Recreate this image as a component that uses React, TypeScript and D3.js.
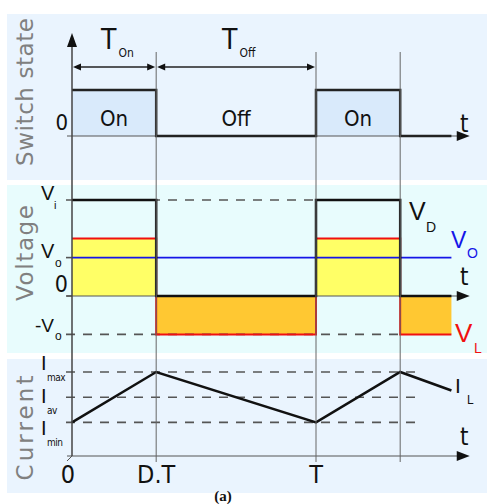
import * as d3 from "d3";

// one switching period = 1, time axis continues a bit past the second pulse
const times = [0, 0.345, 1, 1.345, 1.555];
const switchState = [1, 0, 1, 0, 0];
const switchLabels = ["On", "Off", "On", ""];

// voltages in units of Vi
const vDiode = [1, 0, 1, 0, 0];
const vInductor = [0.6, -0.4, 0.6, -0.4, -0.4];
const vOut = 0.4;

// inductor current
const iInductor = [0.4, 1.0, 0.4, 1.0, 0.78];
const currentLevels = [1.0, 0.7, 0.4];
const currentNames = ["max", "av", "min"];

const timeTicks = [0, 0.345, 1];
const timeLabels = ["0", "D.T", "T"];
const gridTimes = [0.345, 1, 1.345];

const width = 488;
const height = 504;

const NARROW = "'Liberation Sans Narrow', 'DejaVu Sans Condensed', 'Arial Narrow', sans-serif";
const SANS = "'Liberation Sans', Arial, sans-serif";
const TITLE = "'DejaVu Sans', Verdana, sans-serif";
const GREY = "#555";

export default function App() {
  const x = d3.scaleLinear().domain([0, 1]).range([72, 316]);
  const ySw = d3.scaleLinear().domain([0, 1]).range([136, 90]);
  const yV = d3.scaleLinear().domain([0, 1]).range([296, 200]);
  const yI = d3.scaleLinear().domain([0, 1]).range([456, 372]);

  const xAxis = x(0);
  const xEnd = x(1.63);
  const tLast = times[times.length - 1];

  const step = (ys: d3.ScaleLinear<number, number>, vals: number[]) =>
    d3
      .line<number>()
      .x((_, i) => x(times[i]))
      .y((d) => ys(d))
      .curve(d3.curveStepAfter)(vals) || "";

  const swPath = step(ySw, switchState);
  const vdPath = step(yV, vDiode);
  const vlPath = step(yV, vInductor);
  const iPath =
    d3
      .line<number>()
      .x((_, i) => x(times[i]))
      .y((d) => yI(d))(iInductor) || "";

  const segs = d3.range(times.length - 1);

  // t axis with arrow
  const tAxis = (y: number) => (
    <g>
      <line x1={67} x2={xEnd - 8} y1={y} y2={y} stroke={GREY} strokeWidth={1} />
      <polygon points={`${xEnd},${y} ${xEnd - 13},${y - 5} ${xEnd - 13},${y + 5}`} fill="#111" />
    </g>
  );

  const dimArrow = (x1: number, x2: number, y: number) => (
    <g>
      <line x1={x1 + 4} x2={x2 - 4} y1={y} y2={y} stroke="#222" strokeWidth={1.3} />
      <polygon points={`${x1 + 1},${y} ${x1 + 9},${y - 3.5} ${x1 + 9},${y + 3.5}`} fill="#111" />
      <polygon points={`${x2 - 1},${y} ${x2 - 9},${y - 3.5} ${x2 - 9},${y + 3.5}`} fill="#111" />
    </g>
  );

  return (
    <div style={{ position: "absolute", left: 0, top: 0 }}>
      <svg width={width} height={height} style={{ display: "block" }}>
        <rect width={width} height={height} fill="#fff" />
        {/* panel backgrounds */}
        <rect x={7} y={14} width={480} height={166} fill="#EAF4FE" />
        <rect x={7} y={185} width={480} height={168} fill="#E8FCFD" />
        <rect x={7} y={359} width={480} height={134} fill="#EAF4FE" />

        {/* panel titles */}
        {[
          { t: "Switch state", c: 92, len: 148 },
          { t: "Voltage", c: 253, len: 96 },
          { t: "Current", c: 428, len: 105 },
        ].map((d) => (
          <text
            key={d.t}
            transform={`translate(33,${d.c}) rotate(-90)`}
            textAnchor="middle"
            fontFamily={TITLE}
            fontSize={23}
            fill="#808080"
            textLength={d.len}
            lengthAdjust="spacing"
          >
            {d.t}
          </text>
        ))}

        {/* ---------- switch state ---------- */}
        {segs
          .filter((i) => switchState[i] === 1)
          .map((i) => (
            <rect
              key={i}
              x={x(times[i])}
              y={ySw(1)}
              width={x(times[i + 1]) - x(times[i])}
              height={ySw(0) - ySw(1)}
              fill="#D9EAFB"
            />
          ))}
        {tAxis(ySw(0))}
        <path d={swPath} fill="none" stroke="#222" strokeWidth={2.5} />
        {segs.map((i) =>
          switchLabels[i] ? (
            <text
              key={i}
              x={(x(times[i]) + x(times[i + 1])) / 2}
              y={126}
              textAnchor="middle"
              fontFamily={NARROW}
              fontSize={22}
              fill="#111"
            >
              {switchLabels[i]}
            </text>
          ) : null
        )}
        <text x={68} y={130} textAnchor="end" fontFamily={NARROW} fontSize={22} fill="#111">
          0
        </text>
        <text x={460} y={132} fontFamily={NARROW} fontSize={24} fill="#111">
          t
        </text>
        {dimArrow(x(0), x(times[1]), 67)}
        {dimArrow(x(times[1]), x(1), 67)}
        <text x={101} y={49} fontFamily={NARROW} fontSize={28} fill="#111">
          T
          <tspan dx={2} dy={8} fontSize={12}>
            On
          </tspan>
        </text>
        <text x={222} y={49} fontFamily={NARROW} fontSize={28} fill="#111">
          T
          <tspan dx={2} dy={8} fontSize={12}>
            Off
          </tspan>
        </text>

        {/* ---------- voltage ---------- */}
        {segs.map((i) => (
          <rect
            key={i}
            x={x(times[i])}
            y={Math.min(yV(0), yV(vInductor[i]))}
            width={x(times[i + 1]) - x(times[i])}
            height={Math.abs(yV(vInductor[i]) - yV(0))}
            fill={vInductor[i] > 0 ? "#FFFF66" : "#FFC832"}
          />
        ))}
        {/* reference levels */}
        <line x1={66} x2={x(1)} y1={yV(1)} y2={yV(1)} stroke={GREY} strokeWidth={1.6} strokeDasharray="9 8" />
        <line x1={66} x2={x(1 + times[1])} y1={yV(-vOut)} y2={yV(-vOut)} stroke={GREY} strokeWidth={1.6} strokeDasharray="9 8" />
        {[vOut, 0].map((v) => (
          <line key={v} x1={66} x2={xAxis} y1={yV(v)} y2={yV(v)} stroke={GREY} strokeWidth={1.6} />
        ))}
        {tAxis(yV(0))}
        <line x1={xAxis} x2={x(tLast)} y1={yV(vOut)} y2={yV(vOut)} stroke="#1515E8" strokeWidth={1.6} />
        <path d={vlPath} fill="none" stroke="#F01010" strokeWidth={2} />
        <path d={vdPath} fill="none" stroke="#111" strokeWidth={2.5} />

        {/* left labels */}
        <text x={41} y={200} fontFamily={SANS} fontSize={20} fill="#111">
          V<tspan x={54} y={209} fontSize={11}>i</tspan>
        </text>
        <text x={41} y={258} fontFamily={SANS} fontSize={20} fill="#111">
          V<tspan x={55} y={267} fontSize={12}>o</tspan>
        </text>
        <text x={68} y={292} textAnchor="end" fontFamily={NARROW} fontSize={23} fill="#111">
          0
        </text>
        <text x={35} y={332} fontFamily={SANS} fontSize={19} fill="#111">
          -V<tspan x={55} y={340} fontSize={12}>o</tspan>
        </text>
        {/* right labels */}
        <text x={409} y={220} fontFamily={SANS} fontSize={25} fill="#111">
          V<tspan x={426} y={232} fontSize={14}>D</tspan>
        </text>
        <text x={451} y={248} fontFamily={SANS} fontSize={23} fill="#1515E8">
          V<tspan x={467} y={258} fontSize={14}>O</tspan>
        </text>
        <text x={460} y={285} fontFamily={NARROW} fontSize={24} fill="#111">
          t
        </text>
        <text x={455} y={342} fontFamily={SANS} fontSize={26} fill="#F01010">
          V<tspan x={474} y={353} fontSize={14}>L</tspan>
        </text>

        {/* ---------- current ---------- */}
        {currentLevels.map((v) => (
          <line key={v} x1={66} x2={421} y1={yI(v)} y2={yI(v)} stroke={GREY} strokeWidth={1.6} strokeDasharray="9 8" />
        ))}
        {tAxis(yI(0))}
        <line x1={xAxis} x2={xAxis - 5} y1={yI(0)} y2={yI(0) + 5} stroke={GREY} strokeWidth={1} />
        <path d={iPath} fill="none" stroke="#111" strokeWidth={2.5} />
        {currentNames.map((n, i) => (
          <text key={n} x={41} y={370 + i * 32.5} fontFamily={SANS} fontSize={20} fill="#111">
            I
            <tspan x={47} y={381 + i * 32.5} fontFamily={NARROW} fontSize={10} letterSpacing={-0.5}>
              {n}
            </tspan>
          </text>
        ))}
        <text x={455} y={393} fontFamily={SANS} fontSize={21} fill="#111">
          I<tspan x={467} y={404} fontSize={12}>L</tspan>
        </text>
        <text x={460} y={445} fontFamily={NARROW} fontSize={24} fill="#111">
          t
        </text>
        {timeTicks.map((t, i) => (
          <text
            key={t}
            x={i === 0 ? x(t) - 4 : x(t)}
            y={483}
            textAnchor="middle"
            fontFamily={NARROW}
            fontSize={25}
            fill="#111"
          >
            {timeLabels[i]}
          </text>
        ))}

        {/* grid verticals and y axis */}
        {gridTimes.map((t) => (
          <line key={t} x1={x(t)} x2={x(t)} y1={52} y2={462} stroke="#666" strokeWidth={1} />
        ))}
        <line x1={xAxis} x2={xAxis} y1={yI(0)} y2={44} stroke="#444" strokeWidth={1.5} />
        <polygon points={`${xAxis},${33} ${xAxis - 5},${47} ${xAxis + 5},${47}`} fill="#111" />

        <text x={223} y={501} textAnchor="middle" fontFamily="'Liberation Serif', serif" fontWeight="bold" fontSize={15} fill="#111">
          (a)
        </text>
      </svg>
    </div>
  );
}
